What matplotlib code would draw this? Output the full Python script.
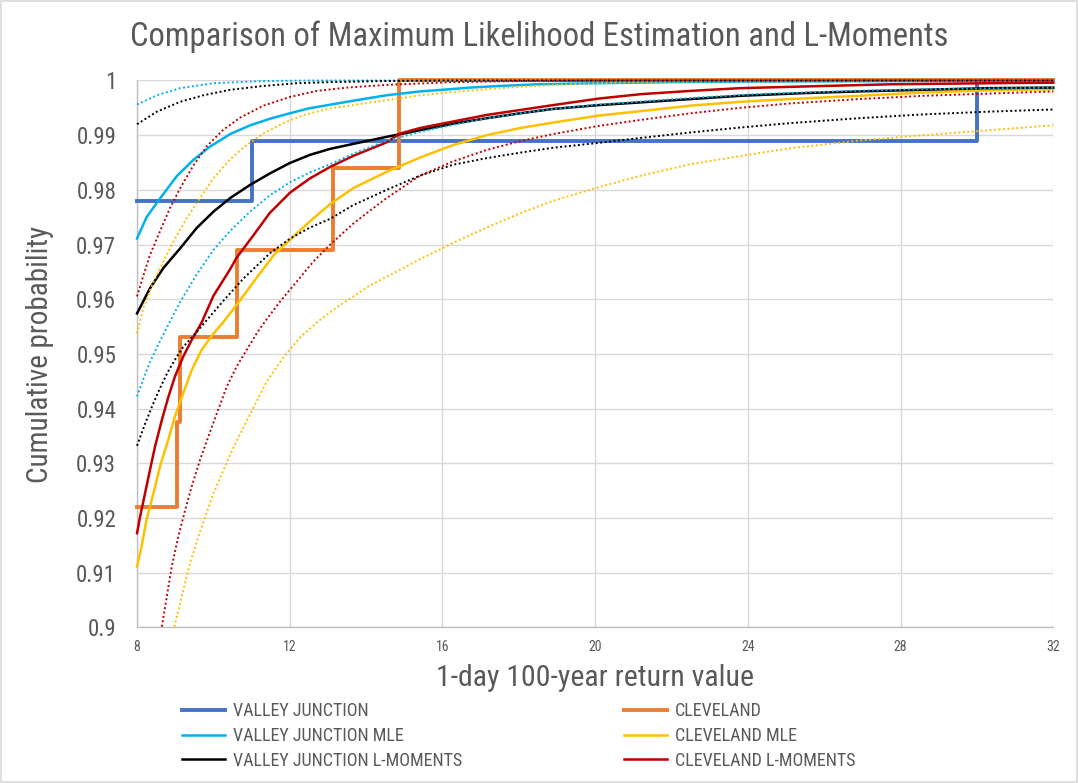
import matplotlib
matplotlib.use("Agg")
import matplotlib.pyplot as plt
from matplotlib import font_manager
from matplotlib.patches import Rectangle

# pick a narrow sans face, close to the Calibri look of the original
names = {f.name for f in font_manager.fontManager.ttflist}
face = "DejaVu Sans"
for cand in ["Liberation Sans Narrow", "Roboto Condensed", "Open Sans Condensed", "Lato"]:
    if cand in names:
        face = cand
        break
plt.rcParams["font.family"] = [face, "DejaVu Sans"]

# ---- data ----
x_ticks = [8, 12, 16, 20, 24, 28, 32]
y_ticks = [0.90, 0.91, 0.92, 0.93, 0.94, 0.95, 0.96, 0.97, 0.98, 0.99, 1.00]
y_tick_labels = ["0.9", "0.91", "0.92", "0.93", "0.94", "0.95", "0.96", "0.97", "0.98", "0.99", "1"]

# empirical step series
vj_step_x = [8, 11.0, 30.0, 32]
vj_step_y = [0.978, 0.989, 1.0, 1.0]
cle_step_x = [8, 9.05, 9.12, 10.63, 13.14, 14.87, 32]
cle_step_y = [0.922, 0.9375, 0.953, 0.969, 0.984, 1.0, 1.0]

# Valley Junction MLE
vj_mle_x = [8.0, 8.25, 8.6, 9.04, 9.48, 9.91, 10.44, 10.96, 11.48, 12.0, 12.5, 13.0, 13.66,
            14.54, 15.41, 16.0, 16.72, 17.5, 18.47, 20.0, 22.0, 24.0, 28.0, 32.0]
vj_mle_y = [0.9711, 0.9750, 0.9784, 0.9825, 0.9855, 0.9879, 0.9902, 0.9918, 0.9930, 0.9940,
            0.9949, 0.9955, 0.9963, 0.9973, 0.9980, 0.9983, 0.9987, 0.9990, 0.9993, 0.9995,
            0.9997, 0.9998, 0.9999, 0.99995]
vj_mle_hi_x = [8.0, 8.52, 9.13, 10.0, 11.31, 12.5, 16.0, 32.0]
vj_mle_hi_y = [0.9956, 0.9973, 0.9986, 0.9995, 0.9999, 1.0, 1.0, 1.0]
vj_mle_lo_x = [8.0, 8.17, 8.34, 8.52, 8.78, 9.13, 9.56, 10.0, 10.44, 10.96, 11.48, 12.01,
               12.53, 13.06, 13.66, 14.54, 15.41, 16.28, 17.16, 18.03, 18.9, 20.1, 22.5,
               24.2, 26.7, 28.6, 32.0]
vj_mle_lo_y = [0.9422, 0.9455, 0.9485, 0.9512, 0.9548, 0.9595, 0.9645, 0.9690, 0.9725,
               0.9760, 0.9790, 0.9814, 0.9832, 0.9847, 0.9866, 0.9890, 0.9906, 0.9919,
               0.9931, 0.9940, 0.9948, 0.9956, 0.9968, 0.9975, 0.9981, 0.9984, 0.9987]

# Valley Junction L-moments
vj_lm_x = [8.0, 8.34, 8.69, 9.13, 9.56, 10.0, 10.44, 10.96, 11.48, 12.0, 12.53, 13.06, 13.66,
           14.54, 15.41, 16.28, 17.16, 18.03, 18.9, 20.1, 21.2, 22.5, 23.8, 25.5, 26.9, 28.6,
           30.3, 32.0]
vj_lm_y = [0.9574, 0.9620, 0.9657, 0.9693, 0.9730, 0.9760, 0.9785, 0.9809, 0.9830, 0.9849,
           0.9864, 0.9875, 0.9884, 0.9897, 0.9909, 0.9921, 0.9931, 0.9940, 0.9948, 0.9955,
           0.9960, 0.9966, 0.9972, 0.9977, 0.9980, 0.9983, 0.9986, 0.9987]
vj_lm_hi_x = [8.0, 8.52, 9.13, 9.74, 10.44, 11.31, 12.18, 13.06, 14.5, 16.0, 32.0]
vj_lm_hi_y = [0.9920, 0.9943, 0.9961, 0.9973, 0.9983, 0.9990, 0.9995, 0.9997, 0.9999, 1.0, 1.0]
vj_lm_lo_x = [8.0, 8.2, 8.4, 8.6, 8.8, 9.0, 9.2, 9.5, 9.83, 10.3, 10.79, 11.48, 12.01, 12.53,
              13.06, 13.66, 14.54, 15.41, 16.28, 17.16, 18.03, 18.9, 20.1, 21.2, 22.5, 23.8,
              25.1, 26.9, 28.6, 30.3, 32.0]
vj_lm_lo_y = [0.9332, 0.9370, 0.9405, 0.9437, 0.9466, 0.9490, 0.9512, 0.9535, 0.9562, 0.9600,
              0.9638, 0.9684, 0.9711, 0.9731, 0.9747, 0.9772, 0.9800, 0.9826, 0.9846, 0.9858,
              0.9868, 0.9877, 0.9886, 0.9895, 0.9905, 0.9914, 0.9922, 0.9931, 0.9938, 0.9943,
              0.9947]

# Cleveland MLE
cle_mle_x = [8.0, 8.12, 8.25, 8.43, 8.6, 8.82, 8.99, 9.21, 9.43, 9.69, 10.0, 10.26, 10.7, 11.14,
             11.6, 12.18, 12.62, 13.06, 13.66, 14.54, 15.41, 16.28, 17.16, 18.03, 18.9, 20.1,
             21.2, 22.5, 23.8, 25.1, 26.9, 28.6, 30.3, 32.0]
cle_mle_y = [0.9111, 0.9148, 0.9197, 0.9245, 0.9294, 0.9343, 0.9385, 0.9428, 0.9470, 0.9507,
             0.9537, 0.9558, 0.9598, 0.9640, 0.9682, 0.9720, 0.9748, 0.9774, 0.9803, 0.9833,
             0.9859, 0.9882, 0.9900, 0.9913, 0.9923, 0.9936, 0.9944, 0.9954, 0.9961, 0.9966,
             0.9972, 0.9978, 0.9982, 0.9984]
cle_mle_hi_x = [8.0, 8.17, 8.43, 8.69, 8.95, 9.3, 9.65, 10.0, 10.44, 10.87, 11.31, 11.83, 12.36,
                13.06, 13.66, 14.54, 15.41, 16.28, 17.5, 18.9, 20.5, 22.0, 32.0]
cle_mle_hi_y = [0.9537, 0.9585, 0.9632, 0.9669, 0.9705, 0.9748, 0.9785, 0.9821, 0.9856, 0.9882,
                0.9903, 0.9922, 0.9937, 0.9949, 0.9955, 0.9964, 0.9973, 0.9979, 0.9986, 0.9992,
                0.9996, 0.9998, 1.0]
cle_mle_lo_x = [8.98, 9.2, 9.4, 9.65, 10.0, 10.52, 11.0, 11.4, 11.85, 12.27, 12.75, 13.23, 14.1,
                14.62, 15.41, 16.28, 17.16, 18.03, 18.9, 20.1, 21.2, 22.5, 24.0, 25.1, 26.9,
                28.6, 30.3, 32.0]
cle_mle_lo_y = [0.9001, 0.9065, 0.9120, 0.9175, 0.9245, 0.9328, 0.9395, 0.9450, 0.9495, 0.9530,
                0.9560, 0.9585, 0.9625, 0.9644, 0.9673, 0.9703, 0.9731, 0.9757, 0.9780, 0.9805,
                0.9826, 0.9847, 0.9864, 0.9876, 0.9890, 0.9900, 0.9909, 0.9918]

# Cleveland L-moments
cle_lm_x = [8.0, 8.08, 8.21, 8.34, 8.47, 8.65, 8.82, 8.99, 9.21, 9.43, 9.69, 10.0, 10.44, 10.61,
            11.05, 11.48, 12.01, 12.53, 13.06, 13.66, 14.54, 14.89, 15.41, 16.28, 17.16, 18.03,
            18.9, 20.1, 21.2, 22.5, 23.8, 26.0, 27.7, 30.3, 32.0]
cle_lm_y = [0.9172, 0.9202, 0.9245, 0.9288, 0.9330, 0.9379, 0.9421, 0.9458, 0.9495, 0.9525,
            0.9557, 0.9606, 0.9655, 0.9676, 0.9717, 0.9758, 0.9795, 0.9821, 0.9842, 0.9862,
            0.9887, 0.9903, 0.9913, 0.9925, 0.9937, 0.9946, 0.9955, 0.9967, 0.9975, 0.9981,
            0.9986, 0.9990, 0.9993, 0.9995, 0.9996]
cle_lm_hi_x = [8.0, 8.17, 8.34, 8.6, 8.86, 9.13, 9.48, 9.83, 10.26, 10.7, 11.31, 12.01, 12.71,
               13.5, 14.54, 16.28, 18.0, 20.0, 32.0]
cle_lm_hi_y = [0.9605, 0.9644, 0.9681, 0.9724, 0.9766, 0.9803, 0.9845, 0.9880, 0.9910, 0.9932,
               0.9954, 0.9970, 0.9981, 0.9987, 0.9992, 0.9997, 0.9999, 1.0, 1.0]
cle_lm_lo_x = [8.65, 8.78, 8.91, 9.08, 9.26, 9.43, 9.65, 9.87, 10.09, 10.35, 10.61, 10.87, 11.14,
               11.35, 11.75, 12.18, 12.62, 13.06, 13.66, 14.1, 14.54, 15.41, 16.28, 17.16, 18.03,
               18.9, 20.1, 21.2, 22.5, 23.8, 25.1, 26.9, 28.6, 30.3, 32.0]
cle_lm_lo_y = [0.9001, 0.9056, 0.9111, 0.9166, 0.9214, 0.9257, 0.9306, 0.9349, 0.9391, 0.9440,
               0.9477, 0.9507, 0.9538, 0.9559, 0.9596, 0.9632, 0.9669, 0.9700, 0.9738, 0.9762,
               0.9785, 0.9826, 0.9852, 0.9873, 0.9889, 0.9902, 0.9917, 0.9928, 0.9940, 0.9950,
               0.9958, 0.9966, 0.9972, 0.9976, 0.9980]

c_vj = "#4472C4"
c_cle = "#ED7D31"
c_vj_mle = "#00B0F0"
c_cle_mle = "#FFC000"
c_vj_lm = "#000000"
c_cle_lm = "#C00000"
grey_txt = "#595959"
dots = (0, (1, 1.3))

fig = plt.figure(figsize=(10.78, 7.83), dpi=100)
ax = fig.add_axes([0.1271, 0.1989, 0.8500, 0.6983])

l_vj, = ax.step(vj_step_x, vj_step_y, where="post", color=c_vj, lw=2.8, label="VALLEY JUNCTION", zorder=3)
l_cle, = ax.step(cle_step_x, cle_step_y, where="post", color=c_cle, lw=2.8, label="CLEVELAND", zorder=3)

l_vjm, = ax.plot(vj_mle_x, vj_mle_y, color=c_vj_mle, lw=1.8, label="VALLEY JUNCTION MLE", zorder=4)
ax.plot(vj_mle_hi_x, vj_mle_hi_y, color=c_vj_mle, lw=1.4, ls=dots, zorder=5)
ax.plot(vj_mle_lo_x, vj_mle_lo_y, color=c_vj_mle, lw=1.4, ls=dots, zorder=5)

l_clem, = ax.plot(cle_mle_x, cle_mle_y, color=c_cle_mle, lw=1.8, label="CLEVELAND MLE", zorder=4)
ax.plot(cle_mle_hi_x, cle_mle_hi_y, color=c_cle_mle, lw=1.4, ls=dots, zorder=5)
ax.plot(cle_mle_lo_x, cle_mle_lo_y, color=c_cle_mle, lw=1.4, ls=dots, zorder=5)

l_vjl, = ax.plot(vj_lm_x, vj_lm_y, color=c_vj_lm, lw=1.8, label="VALLEY JUNCTION L-MOMENTS", zorder=4)
ax.plot(vj_lm_hi_x, vj_lm_hi_y, color=c_vj_lm, lw=1.4, ls=dots, zorder=5)
ax.plot(vj_lm_lo_x, vj_lm_lo_y, color=c_vj_lm, lw=1.4, ls=dots, zorder=5)

l_clel, = ax.plot(cle_lm_x, cle_lm_y, color=c_cle_lm, lw=1.8, label="CLEVELAND L-MOMENTS", zorder=4)
ax.plot(cle_lm_hi_x, cle_lm_hi_y, color=c_cle_lm, lw=1.4, ls=dots, zorder=5)
ax.plot(cle_lm_lo_x, cle_lm_lo_y, color=c_cle_lm, lw=1.4, ls=dots, zorder=5)

for ln in ax.get_lines():
    ln.set_clip_on(False)

ax.set_xlim(8, 32)
ax.set_ylim(0.9, 1.0)
ax.set_xticks(x_ticks)
ax.set_xticklabels([str(v) for v in x_ticks])
ax.set_yticks(y_ticks)
ax.set_yticklabels(y_tick_labels)
ax.tick_params(axis="x", length=0, pad=9, labelsize=10, labelcolor=grey_txt)
ax.tick_params(axis="y", length=0, pad=15, labelsize=16.5, labelcolor=grey_txt)
ax.grid(True, color="#D9D9D9", lw=1.0, zorder=0)
ax.set_axisbelow(True)
for s in ["top", "right"]:
    ax.spines[s].set_visible(False)
for s in ["left", "bottom"]:
    ax.spines[s].set_color("#BFBFBF")
    ax.spines[s].set_linewidth(1.0)

fig.text(0.5, 0.953, "Comparison of Maximum Likelihood Estimation and L-Moments",
         ha="center", va="center", fontsize=23.5, color=grey_txt)
fig.text(0.552, 0.134, "1-day 100-year return value", ha="center", va="center",
         fontsize=21.5, color=grey_txt)
fig.text(0.037, 0.547, "Cumulative probability", ha="center", va="center",
         rotation=90, fontsize=21, color=grey_txt)

handles = [l_vj, l_vjm, l_vjl, l_cle, l_clem, l_clel]
fig.legend(handles=handles, labels=[h.get_label() for h in handles], ncol=2,
           loc="upper left", bbox_to_anchor=(0.1688, 0.1034), frameon=False,
           fontsize=13, labelcolor=grey_txt, handlelength=2.4, handletextpad=0.4,
           columnspacing=9.0, labelspacing=0.38, borderpad=0, borderaxespad=0)

fig.add_artist(Rectangle((0.001, 0.001), 0.998, 0.998, transform=fig.transFigure,
                         fill=False, edgecolor="#D9D9D9", lw=1.2))

fig.savefig("out.png", dpi=100)
